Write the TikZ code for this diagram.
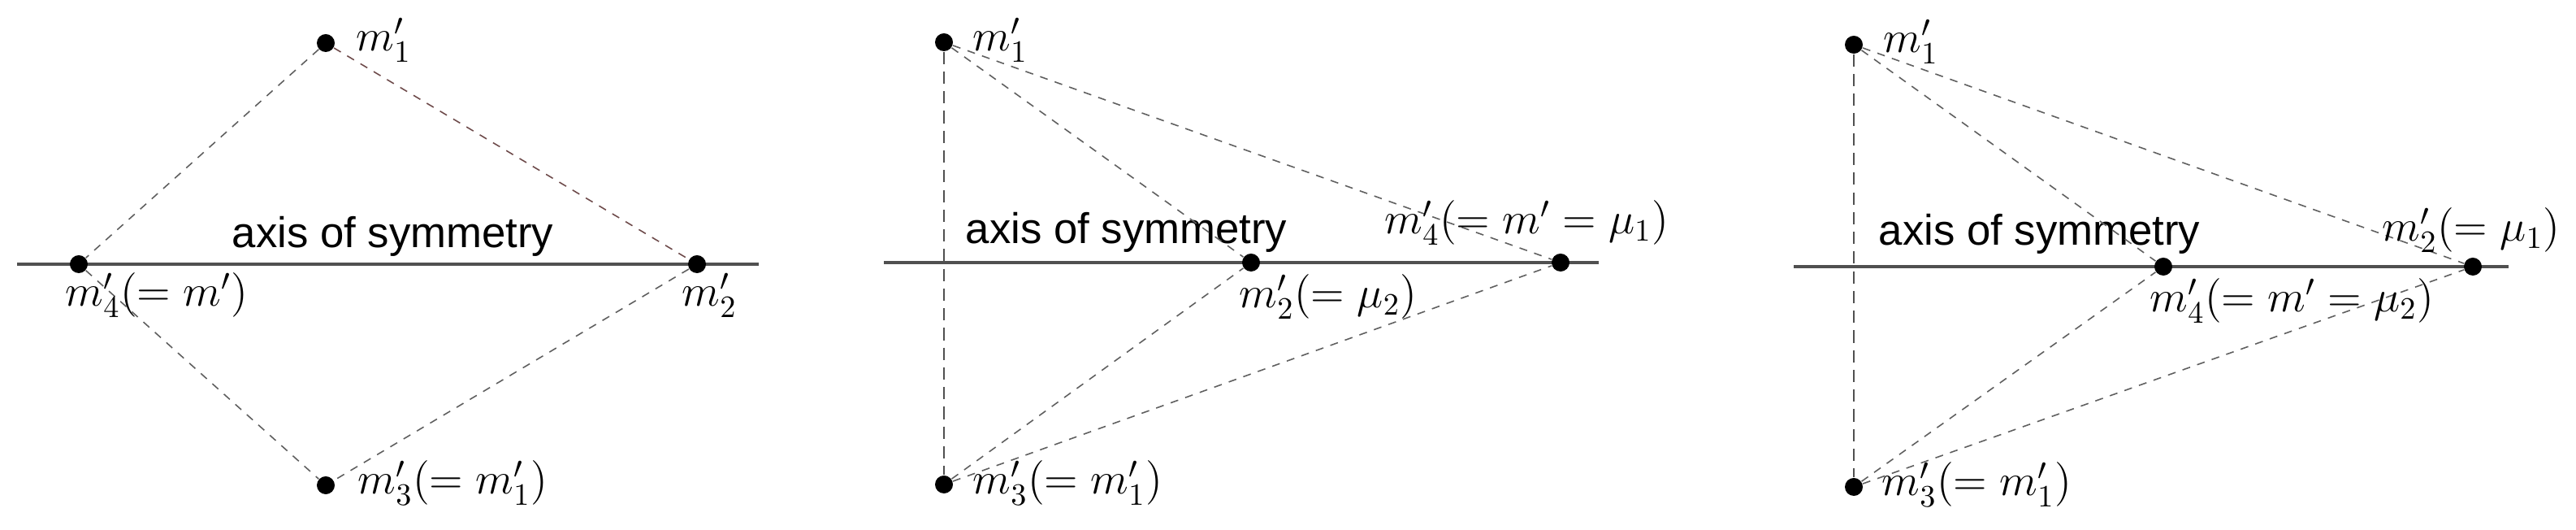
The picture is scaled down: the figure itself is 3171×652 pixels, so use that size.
\RequirePackage{fix-cm}
\documentclass[tikz,border=0pt]{standalone}
\usepackage{fontspec}
\setsansfont{Liberation Sans}
\definecolor{brownish}{RGB}{110,75,75}
\definecolor{dashgray}{RGB}{95,95,95}
\definecolor{axisgray}{RGB}{80,80,80}
\begin{document}
\begin{tikzpicture}[x=0.01cm,y=-0.01cm,
  dot/.style={circle,fill=black,inner sep=0pt,minimum size=0.22cm},
  axisline/.style={line width=1.1pt,draw=axisgray},
  thindash/.style={line width=0.45pt,draw=dashgray,dash pattern=on 2.8pt off 2.6pt},
  browndash/.style={thindash,draw=brownish},
  vertdash/.style={line width=0.75pt,draw=axisgray,dash pattern=on 4.3pt off 2.6pt},
  lbl/.style={anchor=base west,inner sep=0pt,font=\fontsize{15.5}{18}\selectfont},
  axtext/.style={anchor=base west,inner sep=0pt,font=\fontsize{15}{18}\selectfont\sffamily}]
\useasboundingbox (0,0) rectangle (3171,652);

% ---------- panel 1 ----------
\coordinate (a1L) at (21,325);
\coordinate (a1R) at (934,325);
\draw[axisline] (a1L) -- (a1R);
\node[axtext] (p1ax) at (285,305) {axis of symmetry};
\node[dot] (p1m1) at (401,53) {};
\node[dot] (p1m4) at (97,325) {};
\node[dot] (p1m2) at (858,325) {};
\node[dot] (p1m3) at (401,597) {};
\draw[thindash] (p1m1) -- (p1m4);
\draw[browndash] (p1m1) -- (p1m2);
\draw[thindash] (p1m4) -- (p1m3);
\draw[thindash] (p1m2) -- (p1m3);
\node[lbl] (p1l1) at (438,63) {$m'_1$};
\node[lbl] (p1l4) at (80,377) {$m'_4(=m')$};
\node[lbl] (p1l2) at (839,377) {$m'_2$};
\node[lbl] (p1l3) at (440,608) {$m'_3(=m'_1)$};

% ---------- panel 2 ----------
\coordinate (a2L) at (1088,323);
\coordinate (a2R) at (1968,323);
\draw[axisline] (a2L) -- (a2R);
\node[axtext] (p2ax) at (1188,300) {axis of symmetry};
\node[dot] (p2m1) at (1162,52) {};
\node[dot] (p2m3) at (1162,596) {};
\node[dot] (p2m2) at (1540,323) {};
\node[dot] (p2m4) at (1921,323) {};
\draw[vertdash] (p2m1) -- (p2m3);
\draw[thindash] (p2m1) -- (p2m2);
\draw[thindash] (p2m1) -- (p2m4);
\draw[thindash] (p2m3) -- (p2m2);
\draw[thindash] (p2m3) -- (p2m4);
\node[lbl] (p2l1) at (1197,63) {$m'_1$};
\node[lbl] (p2l3) at (1197,608) {$m'_3(=m'_1)$};
\node[lbl] (p2l2) at (1525,379) {$m'_2(=\mu_2)$};
\node[lbl] (p2l4) at (1704,288) {$m'_4(=m'=\mu_1)$};

% ---------- panel 3 ----------
\coordinate (a3L) at (2208,328);
\coordinate (a3R) at (3088,328);
\draw[axisline] (a3L) -- (a3R);
\node[axtext] (p3ax) at (2312,302) {axis of symmetry};
\node[dot] (p3m1) at (2282,55) {};
\node[dot] (p3m3) at (2282,599) {};
\node[dot] (p3m4) at (2663,328) {};
\node[dot] (p3m2) at (3044,328) {};
\draw[vertdash] (p3m1) -- (p3m3);
\draw[thindash] (p3m1) -- (p3m4);
\draw[thindash] (p3m1) -- (p3m2);
\draw[thindash] (p3m3) -- (p3m4);
\draw[thindash] (p3m3) -- (p3m2);
\node[lbl] (p3l1) at (2318,65) {$m'_1$};
\node[lbl] (p3l3) at (2316,610) {$m'_3(=m'_1)$};
\node[lbl] (p3l4) at (2646,384) {$m'_4(=m'=\mu_2)$};
\node[lbl] (p3l2) at (2932,297) {$m'_2(=\mu_1)$};
\end{tikzpicture}
\end{document}
